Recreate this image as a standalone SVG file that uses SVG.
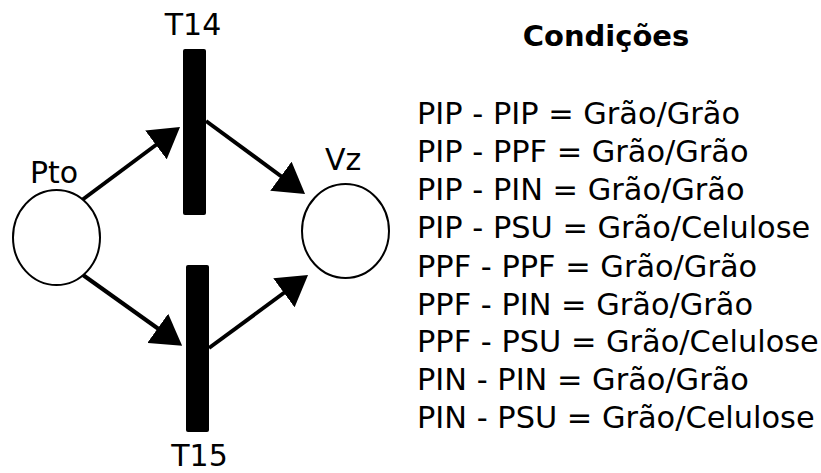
<svg xmlns="http://www.w3.org/2000/svg" width="821" height="473" viewBox="0 0 821 473">
  <style>
    .label { font-family: "DejaVu Sans", Verdana, sans-serif; font-size: 30px; fill: #000; }
    .title { font-family: "DejaVu Sans", Verdana, sans-serif; font-size: 29px; font-weight: bold; fill: #000; }
    .cond { font-family: "DejaVu Sans", Verdana, sans-serif; font-size: 30.4px; fill: #000; }
    .place { fill: #fff; stroke: #000; stroke-width: 2; }
    .trans { fill: #000; }
    .arc { stroke: #000; stroke-width: 4; fill: none; marker-end: url(#head); }
  </style>
  <defs>
    <marker id="head" markerUnits="userSpaceOnUse" viewBox="0 0 30 36" refX="20" refY="18" markerWidth="30" markerHeight="36" orient="auto">
      <path d="M0,0 L30,18 L0,36 Z" fill="#000"/>
    </marker>
  </defs>
  <rect width="821" height="473" fill="#fff"/>

  <g id="connectors">
    <line class="arc" x1="82" y1="200" x2="172" y2="133"/>
    <line class="arc" x1="206" y1="121" x2="297" y2="188"/>
    <line class="arc" x1="83" y1="275" x2="174" y2="340"/>
    <line class="arc" x1="209" y1="348" x2="300" y2="281"/>
  </g>

  <g id="Pto">
    <ellipse class="place" cx="56.5" cy="237.5" rx="43.5" ry="47.5"/>
    <text class="label" x="30" y="183">Pto</text>
  </g>

  <g id="Vz">
    <ellipse class="place" cx="345.5" cy="231" rx="43.5" ry="47"/>
    <text class="label" x="325" y="170">Vz</text>
  </g>

  <g id="T14">
    <rect class="trans" x="183" y="49" width="23" height="166" rx="2"/>
    <text class="label" x="193" y="35" text-anchor="middle">T14</text>
  </g>

  <g id="T15">
    <rect class="trans" x="186" y="265" width="23" height="167" rx="2"/>
    <text class="label" x="199.5" y="466" text-anchor="middle">T15</text>
  </g>

  <g id="conditions">
    <text class="title" x="606" y="46" text-anchor="middle">Condições</text>
    <text class="cond" x="417" y="124">PIP - PIP = Grão/Grão</text>
    <text class="cond" x="417" y="162">PIP - PPF = Grão/Grão</text>
    <text class="cond" x="417" y="200">PIP - PIN = Grão/Grão</text>
    <text class="cond" x="417" y="238">PIP - PSU = Grão/Celulose</text>
    <text class="cond" x="417" y="276.5">PPF - PPF = Grão/Grão</text>
    <text class="cond" x="417" y="314.5">PPF - PIN = Grão/Grão</text>
    <text class="cond" x="417" y="352">PPF - PSU = Grão/Celulose</text>
    <text class="cond" x="417" y="390">PIN - PIN = Grão/Grão</text>
    <text class="cond" x="417" y="427.5">PIN - PSU = Grão/Celulose</text>
  </g>
</svg>
